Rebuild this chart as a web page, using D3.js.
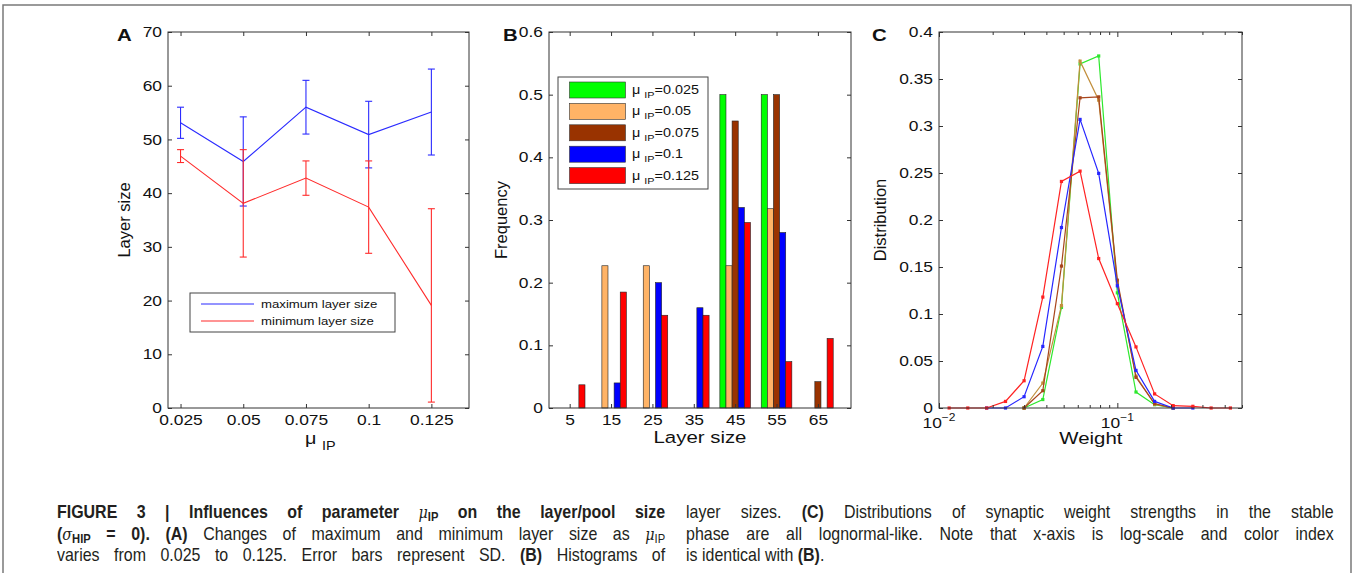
<!DOCTYPE html>
<html>
<head>
<meta charset="utf-8">
<script src="https://cdn.jsdelivr.net/npm/d3@7"></script>
<style>
body { margin: 0; background: #fff; }
#wrap { position: relative; width: 1357px; height: 573px; overflow: hidden; background: #fff; }
svg { position: absolute; left: 0; top: 0; font-family: "Liberation Sans", Arial, Helvetica, sans-serif; }
.sx  { transform-box: fill-box; transform-origin: 50% 50%; transform: scaleX(1.2); }
.sxr { transform-box: fill-box; transform-origin: 100% 50%; transform: scaleX(1.2); }
.sxl { transform-box: fill-box; transform-origin: 0% 50%; transform: scaleX(1.2); }
.cap { position: absolute; font-family: "Liberation Sans", Arial, sans-serif;
       font-size: 19px; line-height: 21px; color: #231f20;
       text-align: justify; text-align-last: justify; white-space: normal;
       transform: scaleX(0.84); transform-origin: 0 0; }
.cap.last { text-align-last: left; }
.cap sub { font-size: 0.7em; vertical-align: -0.22em; line-height: 0; font-weight: bold; }
.cap i { font-family: "DejaVu Serif", "Liberation Serif", serif; font-weight: normal; font-size: 0.9em; }
</style>
</head>
<body>
<div id="wrap">
<svg width="1357" height="573"></svg>
<div class="cap" style="left:57px;top:501px;width:724px;font-weight:bold">FIGURE 3 | Influences of parameter <i>μ</i><sub>IP</sub> on the layer/pool size</div>
<div class="cap" style="left:57px;top:522.5px;width:724px"><b>(<i>σ</i><sub>HIP</sub> = 0).</b> <b>(A)</b> Changes of maximum and minimum layer size as <i>μ</i><sub style="font-weight:normal">IP</sub></div>
<div class="cap" style="left:57px;top:544px;width:724px">varies from 0.025 to 0.125. Error bars represent SD. <b>(B)</b> Histograms of</div>
<div class="cap" style="left:686px;top:501px;width:771px">layer sizes. <b>(C)</b> Distributions of synaptic weight strengths in the stable</div>
<div class="cap" style="left:686px;top:522.5px;width:771px">phase are all lognormal-like. Note that x-axis is log-scale and color index</div>
<div class="cap last" style="left:686px;top:544px;width:771px">is identical with <b>(B)</b>.</div>
</div>
<script>
// panel A: layer size vs mu_IP
const muIP = [0.025, 0.05, 0.075, 0.1, 0.125];
const muLabels = ["0.025", "0.05", "0.075", "0.1", "0.125"];
const maxLayer = [53.1, 45.9, 56.0, 50.9, 55.1];
const maxLayerSD = [2.9, 8.3, 5.0, 6.2, 8.0];
const minLayer = [46.9, 38.1, 42.8, 37.4, 19.1];
const minLayerSD = [1.2, 10.0, 3.2, 8.6, 18.0];
const layerTicksA = [0, 10, 20, 30, 40, 50, 60, 70];

// panel B: histograms of layer size
const layerBins = [5, 15, 25, 35, 45, 55, 65];
const freq025 = [0, 0, 0, 0, 0.5, 0.5, 0];
const freq05  = [0, 0.227, 0.227, 0, 0.227, 0.318, 0];
const freq075 = [0, 0, 0, 0, 0.458, 0.5, 0.042];
const freq1   = [0, 0.04, 0.2, 0.16, 0.32, 0.28, 0];
const freq125 = [0.037, 0.185, 0.148, 0.148, 0.296, 0.074, 0.111];
const seriesNames = ["0.025", "0.05", "0.075", "0.1", "0.125"];
const freqTicks = [0, 0.1, 0.2, 0.3, 0.4, 0.5, 0.6];

// panel C: weight distributions (log x)
const weightBins = [0.0114, 0.0145, 0.0185, 0.0236, 0.0300, 0.0382, 0.0486, 0.0618,
                    0.0786, 0.1, 0.1272, 0.1618, 0.2056, 0.2651, 0.3357, 0.4305];
const dist025 = [null, null, null, null, 0, 0.009, 0.107, 0.366, 0.3745, 0.1225, 0.017, 0.0035, 0, null, null, null];
const dist05  = [null, null, null, null, 0, 0.0265, 0.109, 0.369, 0.3275, 0.133, 0.034, 0.004, 0, null, null, null];
const dist075 = [null, null, null, null, 0, 0.0184, 0.151, 0.330, 0.331, 0.136, 0.0326, 0.0046, 0, null, null, null];
const dist1   = [null, null, 0, 0, 0.012, 0.0655, 0.192, 0.307, 0.2496, 0.130, 0.040, 0.007, 0, 0, null, null];
const dist125 = [0, 0, 0, 0.007, 0.029, 0.118, 0.241, 0.252, 0.159, 0.111, 0.065, 0.015, 0.0025, 0.0018, 0, 0];
const distTicks = [0, 0.05, 0.1, 0.15, 0.2, 0.25, 0.3, 0.35, 0.4];
const weightMajor = [0.01, 0.1];
const weightMinor = [0.02, 0.03, 0.04, 0.05, 0.06, 0.07, 0.08, 0.09, 0.2, 0.3, 0.4, 0.5];

const barColors = ["#00ff00", "#ffb366", "#993300", "#0000ff", "#ff0000"];
const lineColorsC = ["#2ee82e", "#c28f3c", "#a8461c", "#2626ff", "#ff2222"];

const svg = d3.select("svg");
const top0 = 32, bot0 = 408;

// outer figure border
svg.append("path")
  .attr("d", "M3,600 V5 H1351 V600")
  .attr("fill", "none").attr("stroke", "#7a7a7a").attr("stroke-width", 1.5);

function styleAxis(g, size) {
  g.attr("font-size", size).attr("font-family", null).attr("color", "#333");
  g.select(".domain").remove();
  g.selectAll("text").attr("fill", "#111");
}

function boxAxes(x, y, xt, yt, xfmt, yfmt) {
  const [x0, x1] = x.range();
  const g = svg.append("g");
  g.append("g").attr("transform", `translate(0,${bot0})`)
    .call(d3.axisBottom(x).tickValues(xt).tickFormat(xfmt).tickSizeInner(-4).tickSizeOuter(0).tickPadding(7))
    .call(a => styleAxis(a, 14.5))
    .selectAll("text").attr("class", "sx");
  g.append("g").attr("transform", `translate(0,${top0})`)
    .call(d3.axisTop(x).tickValues(xt).tickFormat("").tickSizeInner(-4).tickSizeOuter(0))
    .call(a => styleAxis(a, 14.5));
  g.append("g").attr("transform", `translate(${x0},0)`)
    .call(d3.axisLeft(y).tickValues(yt).tickFormat(yfmt).tickSizeInner(-4).tickSizeOuter(0).tickPadding(6))
    .call(a => styleAxis(a, 14.5))
    .selectAll("text").attr("class", "sxr");
  g.append("g").attr("transform", `translate(${x1},0)`)
    .call(d3.axisRight(y).tickValues(yt).tickFormat("").tickSizeInner(-4).tickSizeOuter(0))
    .call(a => styleAxis(a, 14.5));
  svg.append("rect").attr("x", x0).attr("y", top0).attr("width", x1 - x0).attr("height", bot0 - top0)
    .attr("fill", "none").attr("stroke", "#333").attr("stroke-width", 1);
  return g;
}

function panelLetter(t, x) {
  svg.append("text").attr("x", x).attr("y", 41).attr("font-size", 17).attr("font-weight", "bold")
    .attr("class", "sxl").attr("fill", "#111").text(t);
}

function yLabel(t, x) {
  svg.append("text").attr("transform", `translate(${x},220) rotate(-90)`)
    .attr("text-anchor", "middle").attr("dy", "0.35em").attr("font-size", 16.5).attr("fill", "#111").text(t);
}

// ---------- A ----------
const xA = d3.scaleLinear().domain([0.02, 0.14]).range([168, 469]);
const yA = d3.scaleLinear().domain([0, 70]).range([bot0, top0]);

function errSeries(vals, sds, color) {
  const g = svg.append("g").attr("stroke", color).attr("fill", "none").attr("stroke-width", 1.1);
  g.append("path").datum(vals)
    .attr("d", d3.line().x((d, i) => xA(muIP[i])).y(d => yA(d)));
  vals.forEach((v, i) => {
    const cx = xA(muIP[i]);
    g.append("line").attr("x1", cx).attr("x2", cx).attr("y1", yA(v - sds[i])).attr("y2", yA(v + sds[i]));
    g.append("line").attr("x1", cx - 3.5).attr("x2", cx + 3.5).attr("y1", yA(v - sds[i])).attr("y2", yA(v - sds[i]));
    g.append("line").attr("x1", cx - 3.5).attr("x2", cx + 3.5).attr("y1", yA(v + sds[i])).attr("y2", yA(v + sds[i]));
  });
}
errSeries(maxLayer, maxLayerSD, "#2b2bff");
errSeries(minLayer, minLayerSD, "#ff2b2b");
boxAxes(xA, yA, muIP, layerTicksA, (d, i) => muLabels[i], d => d);

// legend A
const legA = svg.append("g");
legA.append("rect").attr("x", 190).attr("y", 293).attr("width", 205).attr("height", 39)
  .attr("fill", "#fff").attr("stroke", "#444").attr("stroke-width", 1);
[["maximum layer size", "#2b2bff"], ["minimum layer size", "#ff2b2b"]].forEach((d, i) => {
  const yy = 304 + i * 17;
  legA.append("line").attr("x1", 201).attr("x2", 254).attr("y1", yy).attr("y2", yy).attr("stroke", d[1]).attr("stroke-width", 1.1);
  legA.append("text").attr("x", 261).attr("y", yy).attr("dy", "0.35em").attr("font-size", 11)
    .attr("class", "sxl").attr("fill", "#111").text(d[0]);
});
panelLetter("A", 117);
yLabel("Layer size", 124.5);
const xlA = svg.append("text").attr("x", 305).attr("y", 444).attr("font-size", 16.5).attr("fill", "#111").attr("class", "sxl");
xlA.append("tspan").text("μ ");
xlA.append("tspan").attr("font-size", 12).attr("dy", 6).text("IP");

// ---------- B ----------
const xB = d3.scaleLinear().domain([0, 73]).range([549, 851]);
const yB = d3.scaleLinear().domain([0, 0.6]).range([bot0, top0]);
const freqSeries = [freq025, freq05, freq075, freq1, freq125];
const groupW = (xB(10) - xB(0)) * 0.74;
const inner = d3.scaleBand().domain(d3.range(freqSeries.length)).range([-groupW / 2, groupW / 2]).padding(0);
freqSeries.forEach((s, k) => {
  svg.append("g").selectAll("rect")
    .data(s.map((v, i) => ({ v, bin: layerBins[i] })).filter(d => d.v > 0))
    .join("rect")
    .attr("x", d => xB(d.bin) + inner(k))
    .attr("width", inner.bandwidth())
    .attr("y", d => yB(d.v))
    .attr("height", d => yB(0) - yB(d.v))
    .attr("fill", barColors[k]).attr("stroke", "#222").attr("stroke-width", 0.6);
});
boxAxes(xB, yB, layerBins, freqTicks, d => d, d => d);

// legend B
const legB = svg.append("g");
legB.append("rect").attr("x", 558).attr("y", 77).attr("width", 150).attr("height", 112)
  .attr("fill", "#fff").attr("stroke", "#444").attr("stroke-width", 1);
seriesNames.forEach((nm, i) => {
  const yy = 90 + i * 21.4;
  legB.append("rect").attr("x", 569.5).attr("y", yy - 8).attr("width", 56).attr("height", 16)
    .attr("fill", barColors[i]).attr("stroke", "#333").attr("stroke-width", 0.6);
  const t = legB.append("text").attr("x", 632).attr("y", yy + 4).attr("font-size", 12).attr("fill", "#111").attr("class", "sxl");
  t.append("tspan").text("μ ");
  t.append("tspan").attr("font-size", 9).attr("dy", 4).text("IP");
  t.append("tspan").attr("dy", -4).text("=" + nm);
});
panelLetter("B", 503);
yLabel("Frequency", 501.5);
svg.append("text").attr("x", 700).attr("y", 443).attr("text-anchor", "middle").attr("font-size", 17)
  .attr("fill", "#111").attr("class", "sx").text("Layer size");

// ---------- C ----------
const xC = d3.scaleLog().domain([0.01, 0.5]).range([939, 1242]);
const yC = d3.scaleLinear().domain([0, 0.4]).range([bot0, top0]);
const distSeries = [dist025, dist05, dist075, dist1, dist125];
const line = d3.line().defined(d => d.v !== null).x(d => xC(d.w)).y(d => yC(d.v));
distSeries.forEach((s, k) => {
  const pts = s.map((v, i) => ({ v, w: weightBins[i] }));
  svg.append("path").datum(pts).attr("d", line).attr("fill", "none")
    .attr("stroke", lineColorsC[k]).attr("stroke-width", 1.2);
  svg.append("g").selectAll("rect").data(pts.filter(d => d.v !== null)).join("rect")
    .attr("x", d => xC(d.w) - 1.6).attr("y", d => yC(d.v) - 1.6)
    .attr("width", 3.2).attr("height", 3.2).attr("fill", lineColorsC[k]);
});

const gC = svg.append("g").attr("color", "#333");
gC.append("g").attr("transform", `translate(0,${bot0})`)
  .call(d3.axisBottom(xC).tickValues(weightMinor).tickFormat("").tickSizeInner(-3).tickSizeOuter(0))
  .call(a => styleAxis(a, 14.5));
gC.append("g").attr("transform", `translate(0,${bot0})`)
  .call(d3.axisBottom(xC).tickValues(weightMajor).tickFormat("").tickSizeInner(-5).tickSizeOuter(0))
  .call(a => styleAxis(a, 14.5));
gC.append("g").attr("transform", `translate(0,${top0})`)
  .call(d3.axisTop(xC).tickValues(weightMinor).tickFormat("").tickSizeInner(-3).tickSizeOuter(0))
  .call(a => styleAxis(a, 14.5));
gC.append("g").attr("transform", `translate(0,${top0})`)
  .call(d3.axisTop(xC).tickValues(weightMajor).tickFormat("").tickSizeInner(-5).tickSizeOuter(0))
  .call(a => styleAxis(a, 14.5));
gC.append("g").attr("transform", `translate(939,0)`)
  .call(d3.axisLeft(yC).tickValues(distTicks).tickFormat(d => String(+d.toFixed(2))).tickSizeInner(-4).tickSizeOuter(0).tickPadding(6))
  .call(a => styleAxis(a, 14.5))
  .selectAll("text").attr("class", "sxr");
gC.append("g").attr("transform", `translate(1242,0)`)
  .call(d3.axisRight(yC).tickValues(distTicks).tickFormat("").tickSizeInner(-4).tickSizeOuter(0))
  .call(a => styleAxis(a, 14.5));
svg.append("rect").attr("x", 939).attr("y", top0).attr("width", 303).attr("height", bot0 - top0)
  .attr("fill", "none").attr("stroke", "#333");
weightMajor.forEach(w => {
  const t = svg.append("text").attr("x", xC(w)).attr("y", 428).attr("text-anchor", "middle")
    .attr("font-size", 14.5).attr("fill", "#111").attr("class", "sx");
  t.append("tspan").text("10");
  t.append("tspan").attr("font-size", 10).attr("dy", -7).text("−" + Math.round(-Math.log10(w)));
});
panelLetter("C", 872);
yLabel("Distribution", 880.5);
svg.append("text").attr("x", 1091).attr("y", 444).attr("text-anchor", "middle").attr("font-size", 17)
  .attr("fill", "#111").attr("class", "sx").text("Weight");
</script>
</body>
</html>
